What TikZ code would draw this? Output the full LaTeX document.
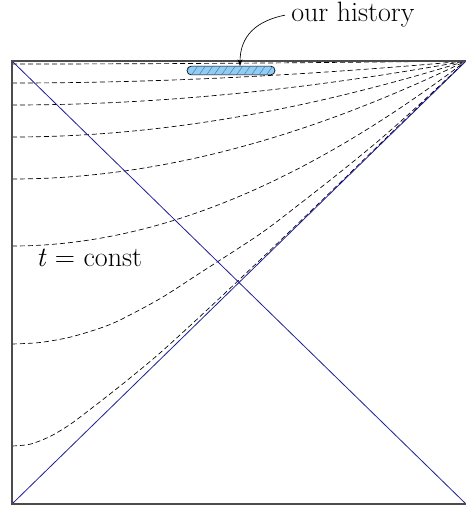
\documentclass[tikz,border=0pt]{standalone}
\usetikzlibrary{patterns.meta,arrows.meta}
\definecolor{hblue}{RGB}{30,30,150}
\definecolor{blobfill}{RGB}{140,205,250}
\tikzset{
  frame/.style={draw=black!70, line width=0.9pt},
  horizon/.style={draw=hblue, line width=0.6pt},
  slice/.style={draw=black, line width=0.5pt, dash pattern=on 3.75pt off 2.25pt},
  lbl/.style={font=\fontsize{21}{24}\selectfont, inner sep=0pt, anchor=base west},
  blobstyle/.style={draw=black, line width=0.5pt, rounded corners=3.2pt,
    minimum width=66pt, minimum height=6.6pt, inner sep=0pt, fill=blobfill,
    postaction={pattern={Lines[angle=55,distance=4.6pt,line width=0.3pt]}, pattern color=black!60}},
  pointer/.style={draw=black, line width=0.5pt, -{Stealth[length=5pt,width=3.6pt]}}
}
\newcommand\tslice[1]{\draw[slice] plot[domain=0:1,samples=90,smooth]
  ({12+454*\x},{61+#1*(1-1.14*\x*\x+0.14*\x*\x*\x)});}
\begin{document}
\begin{tikzpicture}[x=0.75pt,y=-0.75pt]
\useasboundingbox (0,0) rectangle (466,509);
\coordinate (TL) at (12,61);
\coordinate (TR) at (466,61);
\coordinate (BL) at (12,504);
\coordinate (BR) at (466,504);

% t = const slices
\tslice{3}
\tslice{22}
\tslice{44}
\tslice{76}
\tslice{118}
\tslice{185}
\draw[slice] plot[smooth] coordinates {(12,344) (40,342.5) (70,337.2) (100,328.2) (120,320) (160,298.7) (200,273) (260,234) (300,203.7) (340,172.3) (380,139.5) (420,103.9) (466,61)};
\draw[slice] plot[smooth] coordinates {(12,446) (30,444.2) (50,436.5) (70,424.5) (90,409.5) (110,394) (130,378) (160,353) (200,316.5) (260,260) (330,192.5) (400,124.5) (466,61)};

% horizons
\draw[horizon] (TL) -- (BR);
\draw[horizon] (BL) -- (TR);

% frame
\draw[frame] (TR) -- (TL) -- (BL) -- (BR);

% our history
\node[blobstyle] (blob) at (231,70.5) {};
\node[lbl] (hist) at (291,22) {our history};
\coordinate (tip) at (240,66);
\draw[pointer] ([xshift=-4.5pt]hist.west) .. controls (256,21) and (240,36) .. (tip);

% label
\node[lbl] (tc) at (36,266) {\textit{t} = const};
\end{tikzpicture}
\end{document}
